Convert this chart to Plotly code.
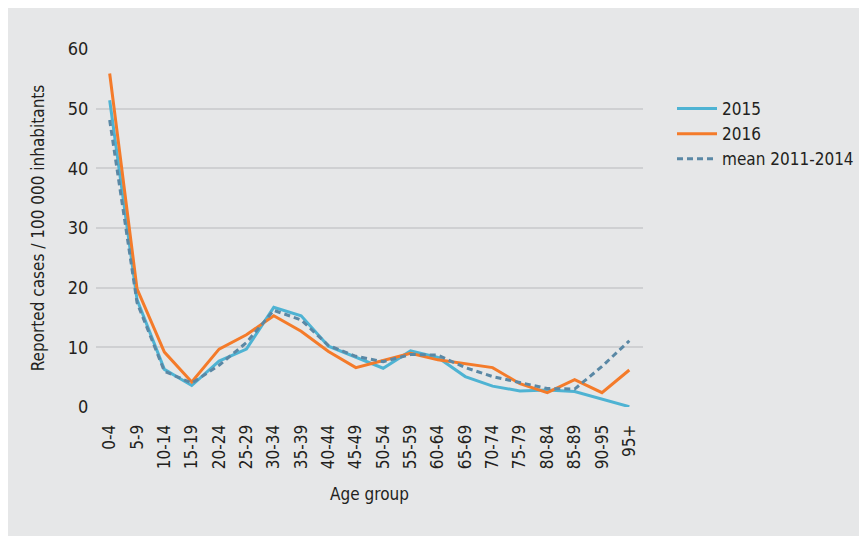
import plotly.graph_objects as go

age_groups = ["0-4", "5-9", "10-14", "15-19", "20-24", "25-29", "30-34", "35-39",
              "40-44", "45-49", "50-54", "55-59", "60-64", "65-69", "70-74", "75-79",
              "80-84", "85-89", "90-95", "95+"]
cases_2015 = [51.4, 18.0, 6.3, 3.6, 7.7, 9.7, 16.7, 15.3, 10.2, 8.3, 6.5, 9.4,
              8.3, 5.1, 3.5, 2.7, 2.85, 2.6, 1.3, 0.05]
cases_2016 = [55.9, 19.8, 9.2, 4.2, 9.7, 12.1, 15.3, 12.7, 9.3, 6.6, 7.8, 9.0,
              7.9, 7.3, 6.6, 3.9, 2.4, 4.6, 2.4, 6.2]
mean_2011_2014 = [48.1, 17.5, 6.0, 4.0, 7.0, 10.8, 16.2, 14.6, 10.3, 8.5, 7.6, 8.8,
                  8.7, 6.6, 5.1, 4.1, 3.1, 3.0, 6.8, 11.1]
y_ticks = [0, 10, 20, 30, 40, 50, 60]

FONT = "Liberation Sans Narrow, DejaVu Sans Condensed, Arial Narrow, sans-serif"
TXT = "#231f20"
BG = "#e6e7e8"

fig = go.Figure()
fig.add_trace(go.Scatter(x=age_groups, y=cases_2015, mode="lines", name="2015",
                         line=dict(color="#4eb3d3", width=3)))
fig.add_trace(go.Scatter(x=age_groups, y=cases_2016, mode="lines", name="2016",
                         line=dict(color="#f47b2a", width=3)))
fig.add_trace(go.Scatter(x=age_groups, y=mean_2011_2014, mode="lines", name="mean 2011-2014",
                         line=dict(color="#5a88a5", width=3, dash="6px,4px")))

# page has an 8px body margin; figure coordinates are page coords minus 8
OFF = 8
W, H = 867 - OFF, 536 - OFF
L, R, T, B = 96 - OFF, 643 - OFF, 49 - OFF, 407 - OFF


def px_x(p):
    return (p - OFF - L) / (R - L)


def px_y(p):
    return (B - (p - OFF)) / (B - T)


fig.update_layout(
    width=W, height=H,
    margin=dict(l=L, r=W - R, t=T, b=H - B, pad=0, autoexpand=False),
    paper_bgcolor=BG, plot_bgcolor=BG,
    font=dict(family=FONT, color=TXT, size=17),
    showlegend=True,
    legend=dict(x=px_x(672), y=px_y(91), xanchor="left", yanchor="top",
                bgcolor="rgba(0,0,0,0)", font=dict(size=17, family=FONT, color=TXT),
                tracegroupgap=0, itemwidth=40),
    xaxis=dict(type="category", range=[-0.5, len(age_groups) - 0.5],
               showgrid=False, zeroline=False, showline=False,
               tickangle=-90, ticks="outside", ticklen=10, tickcolor=BG,
               tickfont=dict(size=17, family=FONT, color=TXT),
               title=dict(text="Age group", standoff=19,
                          font=dict(size=17, family=FONT, color=TXT))),
    yaxis=dict(range=[0, 60], tickvals=y_ticks, showgrid=True, gridcolor="#cfd0d2",
               gridwidth=1.5, zeroline=False, showline=False,
               ticks="outside", ticklen=3, tickcolor=BG,
               tickfont=dict(size=18, family=FONT, color=TXT),
               title=dict(text="Reported cases / 100 000 inhabitants", standoff=18,
                          font=dict(size=17, family=FONT, color=TXT))),
)
for tr in fig.data:
    tr.cliponaxis = False

fig.write_html("out.html")
